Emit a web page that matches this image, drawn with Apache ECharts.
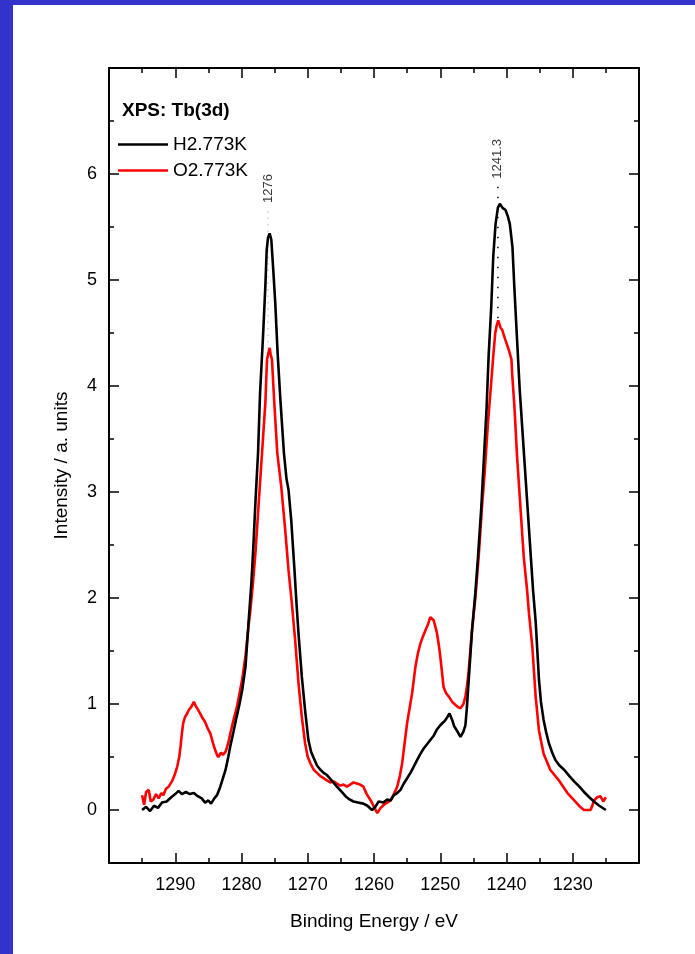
<!DOCTYPE html>
<html>
<head>
<meta charset="utf-8">
<script src="https://cdn.jsdelivr.net/npm/echarts@6/dist/echarts.min.js"></script>
<style>
  html, body { margin: 0; padding: 0; background: #ffffff; }
  #wrap { position: relative; width: 695px; height: 954px; background: #ffffff; overflow: hidden; }
  #barLeft { position: absolute; left: 0; top: 0; width: 13px; height: 954px; background: #3333cc; }
  #barTop { position: absolute; left: 0; top: 0; width: 695px; height: 5px; background: #3333cc; }
  #chart { position: absolute; left: 0; top: 0; width: 695px; height: 954px; }
</style>
</head>
<body>
<div id="wrap">
  <div id="barLeft"></div>
  <div id="barTop"></div>
  <div id="chart"></div>
</div>
<script>
// ---------------- data ----------------
const seriesNames = ['H2.773K', 'O2.773K'];

const hEnergy = [
  1295.0,1294.4,1293.8,1293.2,1292.6,1292.0,1291.3,1290.6,1290.0,1289.5,
  1289.0,1288.4,1287.8,1287.2,1286.6,1286.0,1285.5,1285.0,1284.6,1284.1,
  1283.7,1283.2,1282.8,1282.4,1282.0,1281.7,1281.2,1280.8,1280.3,1279.9,
  1279.4,1278.9,1278.5,1278.2,1277.9,1277.5,1277.2,1276.75,1276.4,1276.2,
  1276.0,1275.75,1275.5,1275.2,1274.9,1274.55,1274.1,1273.6,1273.2,1272.9,
  1272.8,1272.5,1272.0,1271.7,1271.4,1270.9,1270.4,1269.9,1269.5,1269.1,
  1268.6,1268.1,1267.6,1267.1,1266.4,1265.6,1265.0,1264.3,1263.7,1263.1,
  1262.4,1261.6,1261.0,1260.3,1259.8,1259.3,1258.6,1258.0,1257.5,1257.0,
  1256.5,1256.0,1255.5,1255.0,1254.5,1254.0,1253.5,1253.0,1252.5,1252.0,
  1251.5,1251.0,1250.5,1250.0,1249.5,1249.2,1248.9,1248.6,1248.2,1247.9,
  1247.4,1246.95,1246.5,1246.2,1246.0,1245.7,1245.2,1244.7,1244.3,1243.8,
  1243.4,1243.0,1242.7,1242.3,1242.0,1241.65,1241.3,1241.0,1240.6,1240.15,
  1239.8,1239.5,1239.1,1238.8,1238.4,1238.0,1237.5,1237.0,1236.5,1236.0,
  1235.6,1235.1,1234.8,1234.4,1234.0,1233.6,1233.1,1232.6,1232.0,1231.3,
  1230.5,1229.8,1229.0,1228.3,1227.5,1226.8,1226.0,1225.0
];
const hIntensity = [
  0.00,0.03,-0.01,0.04,0.02,0.07,0.08,0.12,0.15,0.18,
  0.15,0.17,0.15,0.16,0.13,0.11,0.07,0.09,0.06,0.11,
  0.14,0.22,0.30,0.38,0.50,0.60,0.74,0.86,1.00,1.13,
  1.35,1.80,2.15,2.50,2.90,3.37,3.93,4.47,4.94,5.28,
  5.40,5.44,5.38,5.09,4.78,4.31,3.84,3.37,3.12,3.02,
  2.95,2.74,2.26,1.95,1.67,1.26,0.94,0.66,0.55,0.49,
  0.42,0.38,0.35,0.33,0.28,0.22,0.18,0.13,0.10,0.08,
  0.07,0.06,0.04,0.00,0.03,0.08,0.07,0.10,0.09,0.14,
  0.16,0.19,0.25,0.30,0.35,0.41,0.47,0.53,0.58,0.62,
  0.66,0.70,0.76,0.80,0.83,0.85,0.88,0.91,0.85,0.79,
  0.74,0.69,0.74,0.80,0.95,1.23,1.70,2.05,2.39,2.86,
  3.33,3.80,4.28,4.75,5.22,5.53,5.68,5.72,5.68,5.66,
  5.60,5.53,5.31,4.91,4.43,3.96,3.49,3.02,2.55,2.08,
  1.78,1.23,1.02,0.85,0.73,0.63,0.54,0.47,0.42,0.38,
  0.32,0.27,0.22,0.17,0.12,0.08,0.04,0.00
];

const oEnergy = [
  1295.0,1294.7,1294.4,1294.0,1293.7,1293.3,1292.9,1292.5,1292.1,1291.8,
  1291.4,1291.0,1290.5,1290.1,1289.7,1289.4,1289.2,1289.0,1288.8,1288.5,
  1288.2,1287.9,1287.6,1287.2,1286.9,1286.5,1286.0,1285.5,1285.1,1284.7,
  1284.3,1284.0,1283.7,1283.5,1283.1,1282.8,1282.4,1282.0,1281.7,1281.2,
  1280.7,1280.3,1279.9,1279.4,1278.9,1278.7,1278.3,1277.9,1277.4,1276.9,
  1276.4,1276.15,1275.9,1275.75,1275.6,1275.4,1275.05,1274.6,1274.0,1273.4,
  1272.9,1272.4,1271.9,1271.4,1270.9,1270.4,1270.0,1269.6,1269.1,1268.6,
  1268.1,1267.6,1267.1,1266.6,1266.1,1265.6,1265.1,1264.6,1264.1,1263.6,
  1263.1,1262.6,1262.1,1261.6,1261.1,1260.5,1260.0,1259.5,1259.0,1258.5,
  1258.0,1257.5,1257.0,1256.5,1256.1,1255.75,1255.4,1255.0,1254.6,1254.25,
  1253.75,1253.4,1253.0,1252.6,1252.2,1251.8,1251.5,1251.0,1250.7,1250.5,
  1250.2,1250.0,1249.7,1249.5,1249.1,1248.7,1248.2,1247.7,1247.3,1246.95,
  1246.5,1246.2,1245.9,1245.7,1245.2,1244.7,1244.2,1243.7,1243.3,1242.8,
  1242.4,1242.0,1241.7,1241.45,1241.25,1240.9,1240.65,1240.15,1239.65,1239.25,
  1239.15,1238.8,1238.4,1237.9,1237.4,1236.9,1236.6,1236.1,1235.6,1235.1,
  1234.4,1233.4,1232.1,1230.8,1229.6,1228.9,1228.3,1227.3,1227.0,1226.8,
  1226.3,1225.8,1225.4,1225.0
];
const oIntensity = [
  0.14,0.05,0.17,0.19,0.08,0.10,0.15,0.11,0.16,0.14,
  0.20,0.22,0.27,0.33,0.41,0.50,0.60,0.72,0.82,0.88,
  0.91,0.95,0.97,1.02,0.98,0.94,0.88,0.83,0.77,0.72,
  0.63,0.57,0.52,0.50,0.54,0.52,0.55,0.63,0.72,0.85,
  0.97,1.10,1.23,1.45,1.76,1.86,2.12,2.42,2.90,3.37,
  3.84,4.25,4.32,4.36,4.30,4.25,3.84,3.37,3.05,2.64,
  2.26,1.95,1.60,1.20,0.88,0.63,0.50,0.44,0.38,0.35,
  0.32,0.30,0.28,0.26,0.27,0.25,0.23,0.24,0.22,0.24,
  0.26,0.25,0.24,0.22,0.15,0.09,0.03,-0.03,0.02,0.05,
  0.07,0.09,0.15,0.22,0.32,0.44,0.62,0.82,0.97,1.10,
  1.35,1.47,1.57,1.64,1.70,1.76,1.82,1.79,1.72,1.67,
  1.55,1.45,1.28,1.16,1.10,1.07,1.02,0.99,0.97,0.96,
  1.00,1.07,1.20,1.32,1.70,2.00,2.39,2.86,3.18,3.65,
  3.96,4.28,4.50,4.58,4.62,4.55,4.53,4.43,4.34,4.25,
  4.12,3.80,3.33,2.86,2.39,2.08,1.85,1.54,1.07,0.75,
  0.53,0.38,0.28,0.16,0.08,0.03,0.00,0.00,0.05,0.09,
  0.12,0.13,0.08,0.12
];

// peak marker annotations
const peakPositions = [1276, 1241.3];
const peakLabels = ['1276', '1241.3'];
const markerTop = [5.65, 5.88];
const markerBottom = [4.20, 4.63];

// axis ticks
const xTickValues = [1230, 1240, 1250, 1260, 1270, 1280, 1290];
const yTickValues = [0, 1, 2, 3, 4, 5, 6];

// --------------- build ---------------
const zip = (xs, ys) => xs.map((x, i) => [x, ys[i]]);
const FONT = 'Arial, "Liberation Sans", sans-serif';

const chart = echarts.init(document.getElementById('chart'), null, { renderer: 'canvas' });

const xCommon = {
  type: 'value', min: 1220, max: 1300, interval: 10, inverse: true,
  axisLine: { show: true, onZero: false, lineStyle: { color: '#000', width: 2 } },
  axisTick: { show: true, inside: true, length: 10, lineStyle: { color: '#000', width: 1.5 } },
  minorTick: { show: true, splitNumber: 2, length: 5, lineStyle: { color: '#000', width: 1.5 } },
  splitLine: { show: false }, minorSplitLine: { show: false }
};

const yMajor = {
  type: 'value', min: -0.5, max: 7, splitNumber: 7, minInterval: 1, maxInterval: 1,
  axisLine: { show: true, onZero: false, lineStyle: { color: '#000', width: 2 } },
  axisTick: { show: true, inside: true, length: 10, lineStyle: { color: '#000', width: 1.5 } },
  splitLine: { show: false }
};
const yMinor = {
  type: 'value', min: -0.5, max: 7, interval: 0.5,
  axisLine: { show: false, onZero: false },
  axisTick: { show: true, inside: true, length: 5, lineStyle: { color: '#000', width: 1.5 } },
  axisLabel: { show: false },
  splitLine: { show: false }
};

const markerSeries = peakPositions.map((p, i) => ({
  type: 'line', xAxisIndex: 0, yAxisIndex: 0, silent: true,
  symbol: 'none', z: 1,
  lineStyle: i === 0 ? { color: '#c4c4c4', width: 1.2, type: [1.5, 5] } : { color: '#000', width: 1.5, type: [1.5, 8.5] },
  data: [[p, markerTop[i]], [p, markerBottom[i]]]
}));

const option = {
  animation: false,
  backgroundColor: 'transparent',
  textStyle: { fontFamily: FONT },
  title: {
    text: 'XPS: Tb(3d)', left: 122, top: 101, padding: 0,
    textStyle: { fontFamily: FONT, fontWeight: 'bold', fontSize: 19, color: '#000' }
  },
  legend: {
    data: seriesNames, orient: 'vertical', left: 118, top: 135, padding: 0,
    icon: 'rect', itemWidth: 50, itemHeight: 2.5, itemGap: 7,
    textStyle: { fontFamily: FONT, fontSize: 19, color: '#000', lineHeight: 19 }
  },
  grid: { left: 109, right: 56, top: 68, bottom: 91, containLabel: false },
  xAxis: [
    Object.assign({}, xCommon, {
      position: 'bottom',
      name: 'Binding Energy / eV', nameLocation: 'middle', nameGap: 49,
      nameTextStyle: { fontFamily: FONT, fontSize: 19, color: '#000' },
      axisLabel: {
        show: true, margin: 13, fontFamily: FONT, fontSize: 18, color: '#000',
        formatter: v => (xTickValues.indexOf(Math.round(v)) >= 0 ? String(Math.round(v)) : '')
      }
    }),
    Object.assign({}, xCommon, { position: 'top', axisLabel: { show: false } })
  ],
  yAxis: [
    Object.assign({}, yMajor, {
      position: 'left',
      name: 'Intensity / a. units', nameLocation: 'middle', nameGap: 38,
      nameTextStyle: { fontFamily: FONT, fontSize: 19, color: '#000' },
      axisLabel: {
        show: true, margin: 12, fontFamily: FONT, fontSize: 18, color: '#000',
        showMinLabel: false,
        formatter: v => {
          const r = Math.round(v);
          return (Math.abs(v - r) < 1e-6 && yTickValues.indexOf(r) >= 0) ? String(Math.abs(r)) : '';
        }
      }
    }),
    Object.assign({}, yMinor, { position: 'left' }),
    Object.assign({}, yMajor, { position: 'right', axisLabel: { show: false } }),
    Object.assign({}, yMinor, { position: 'right' })
  ],
  series: [
    {
      name: seriesNames[0], type: 'line', xAxisIndex: 0, yAxisIndex: 0,
      symbol: 'none', z: 3,
      lineStyle: { color: '#000000', width: 2.6 }, itemStyle: { color: '#000000' },
      data: zip(hEnergy, hIntensity)
    },
    {
      name: seriesNames[1], type: 'line', xAxisIndex: 0, yAxisIndex: 0,
      symbol: 'none', z: 2,
      lineStyle: { color: '#ff0000', width: 2.6 }, itemStyle: { color: '#ff0000' },
      data: zip(oEnergy, oIntensity)
    },
    ...markerSeries,
    {
      type: 'scatter', xAxisIndex: 0, yAxisIndex: 0, silent: true,
      symbol: 'circle', symbolSize: 0.1, itemStyle: { color: 'rgba(0,0,0,0)' },
      data: peakPositions.map((p, i) => [p, markerTop[i]]),
      label: {
        show: true, position: 'top', distance: 8, rotate: 90,
        align: 'left', verticalAlign: 'middle',
        fontFamily: FONT, fontSize: 13, color: '#000',
        formatter: p => peakLabels[p.dataIndex]
      }
    }
  ]
};

chart.setOption(option);
</script>
</body>
</html>
